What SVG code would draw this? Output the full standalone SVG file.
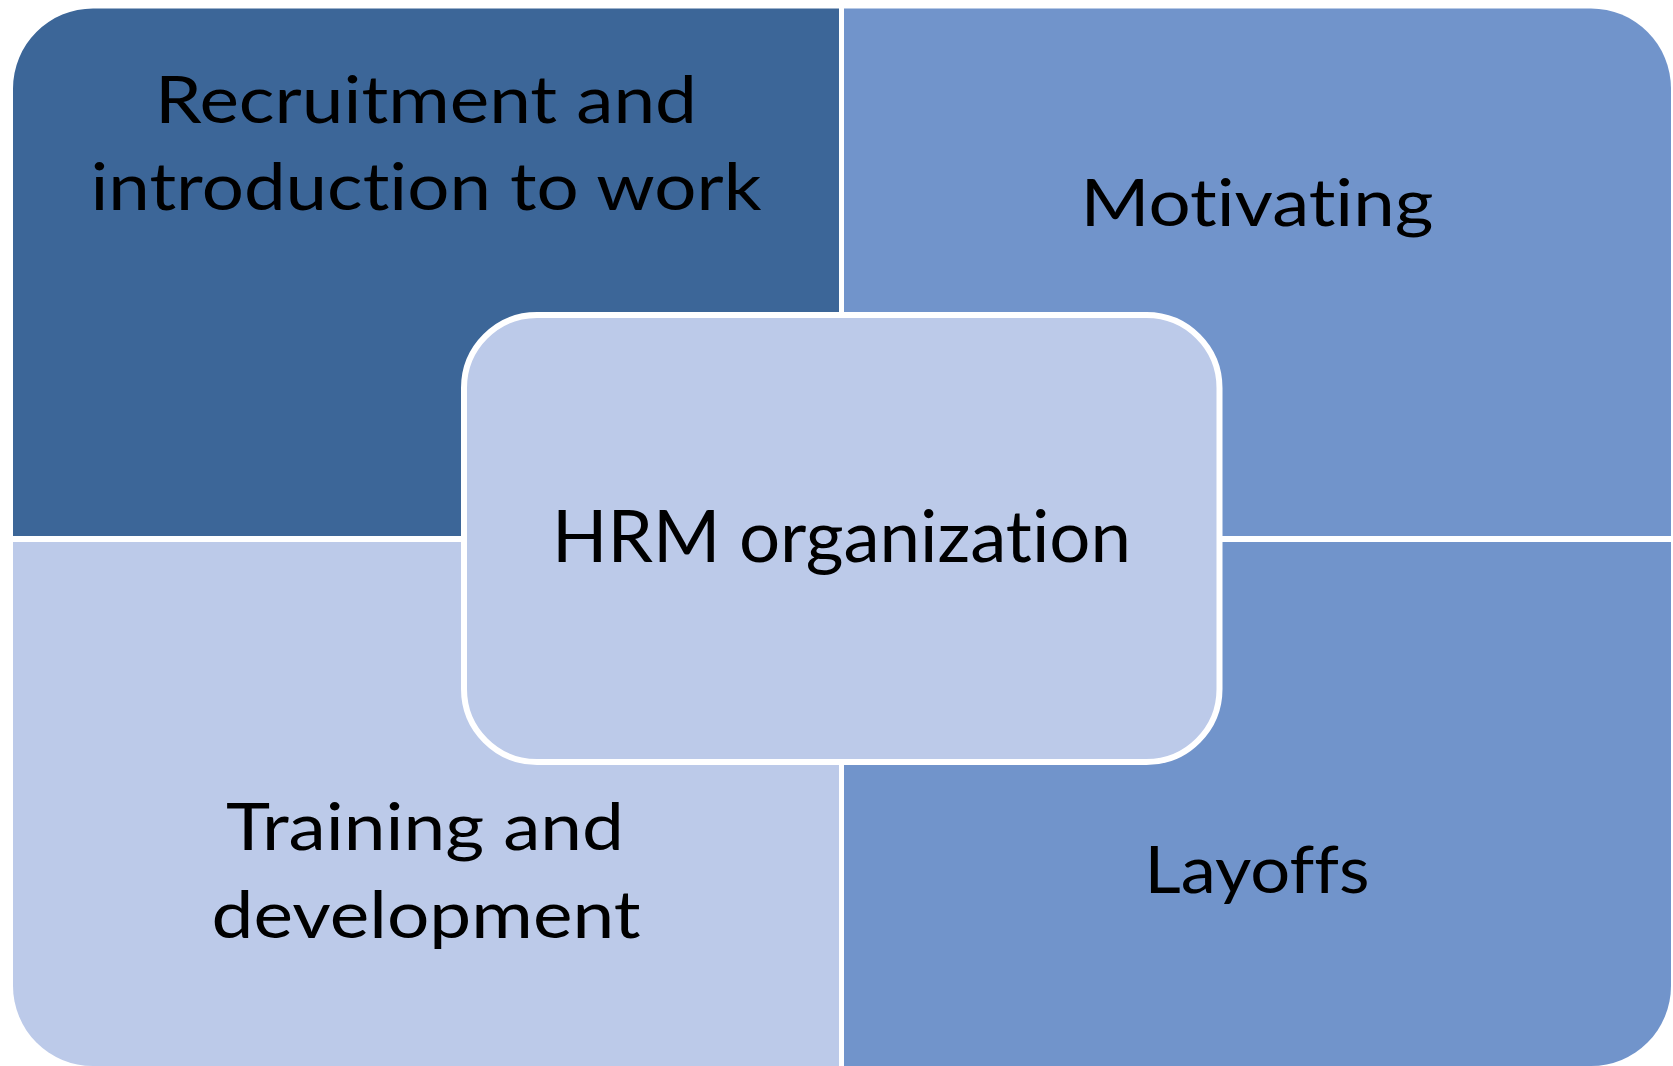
<svg xmlns="http://www.w3.org/2000/svg" width="1673" height="1066" viewBox="0 0 1673 1066">
<style>
.lbl{font-family:Lato,"Open Sans","Liberation Sans",sans-serif;fill:#000;text-anchor:middle;font-variant-ligatures:none;font-feature-settings:"liga" 0,"clig" 0}
.q{font-size:66px}
.c{font-size:72px}
.dark{fill:#3C6698}
.mid{fill:#7194CB}
.light{fill:#BCCAE9}
</style>
<rect width="1673" height="1066" fill="#FFFFFF"/>
<g id="recruitment">
<path class="dark" d="M13,88.5 A80,80 0 0 1 93,8.5 H839 V536 H13 Z"/>
<text class="lbl q" x="426" y="123" textLength="542" lengthAdjust="spacingAndGlyphs">Recruitment and</text>
<text class="lbl q" x="426" y="210" textLength="671" lengthAdjust="spacingAndGlyphs">introduction to work</text>
</g>
<g id="motivating">
<path class="mid" d="M844,8.5 H1591 A80,80 0 0 1 1671,88.5 V536 H844 Z"/>
<text class="lbl q" x="1257" y="226" textLength="353" lengthAdjust="spacingAndGlyphs">Motivating</text>
</g>
<g id="training">
<path class="light" d="M13,542 H839 V1066 H93 A80,80 0 0 1 13,986 Z"/>
<text class="lbl q" x="425" y="850" textLength="398" lengthAdjust="spacingAndGlyphs">Training and</text>
<text class="lbl q" x="426" y="938" textLength="429" lengthAdjust="spacingAndGlyphs">development</text>
</g>
<g id="layoffs">
<path class="mid" d="M844,542 H1671 V986 A80,80 0 0 1 1591,1066 H844 Z"/>
<text class="lbl q" x="1257" y="893" textLength="225" lengthAdjust="spacingAndGlyphs">Layoffs</text>
</g>
<g id="hrm">
<rect class="light" x="464" y="315" width="755.5" height="447" rx="73" ry="73" stroke="#FFFFFF" stroke-width="6"/>
<text class="lbl c" x="841.5" y="562" textLength="579" lengthAdjust="spacingAndGlyphs">HRM organization</text>
</g>
</svg>
